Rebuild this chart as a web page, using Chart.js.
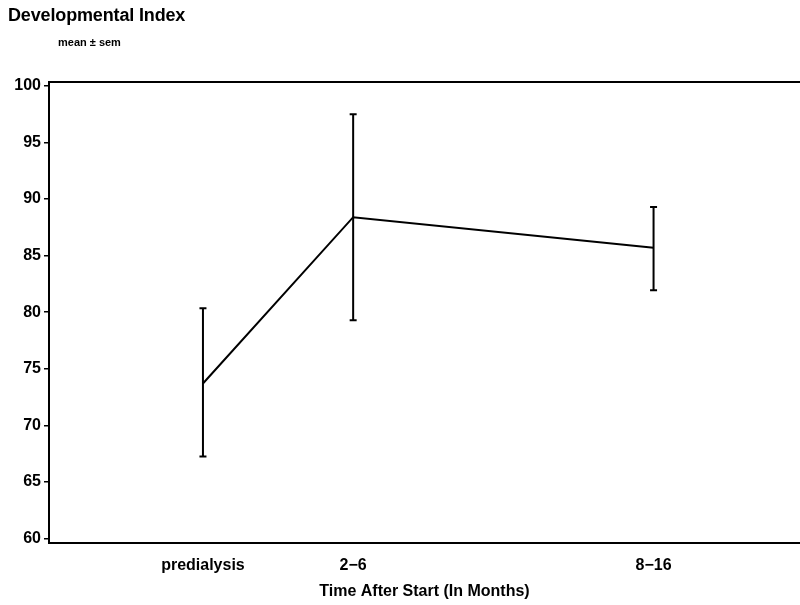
<!DOCTYPE html>
<html lang="en">
<head>
    <meta charset="UTF-8">
    <title>Developmental Index</title>
    <script src="https://cdn.jsdelivr.net/npm/chart.js"></script>
    <style>
        body {
            margin: 0;
            background: #fff;
            font-family: "Liberation Sans", Arial, sans-serif;
        }
        .wrap {
            position: relative;
            width: 800px;
            height: 605px;
        }
        .title {
            position: absolute;
            left: 8px;
            top: 5px;
            font-size: 18px;
            font-weight: bold;
            letter-spacing: -0.15px;
        }
        .subtitle {
            position: absolute;
            left: 58px;
            top: 36px;
            font-size: 11px;
            font-weight: bold;
        }
    </style>
</head>
<body>
<div class="wrap">
    <canvas id="devChart" width="800" height="605"></canvas>
    <div class="title">Developmental Index</div>
    <div class="subtitle">mean ± sem</div>
</div>

<script>
    // time groups, placed at the midpoint month of each range
    const groupLabels = ['predialysis', '2\u22126', '8\u221216'];
    const groupMonths = [0, 4, 12];
    const meanValues = [73.7, 88.4, 85.7];
    const semUpper = [80.35, 97.5, 89.3];
    const semLower = [67.25, 79.3, 81.95];
    const yTicks = [60, 65, 70, 75, 80, 85, 90, 95, 100];

    const tickFont = { family: 'Liberation Sans', size: 16, weight: 'bold' };

    // whiskers for mean +/- sem
    const errorBars = {
        id: 'errorBars',
        afterDatasetsDraw(chart) {
            const ctx = chart.ctx;
            const xs = chart.scales.x, ys = chart.scales.y;
            ctx.save();
            ctx.strokeStyle = '#000';
            ctx.lineWidth = 2;
            groupMonths.forEach((m, i) => {
                const x = xs.getPixelForValue(m);
                const top = ys.getPixelForValue(semUpper[i]);
                const bot = ys.getPixelForValue(semLower[i]);
                ctx.beginPath();
                ctx.moveTo(x, top); ctx.lineTo(x, bot);
                ctx.moveTo(x - 3.5, top); ctx.lineTo(x + 3.5, top);
                ctx.moveTo(x - 3.5, bot); ctx.lineTo(x + 3.5, bot);
                ctx.stroke();
            });
            ctx.restore();
        }
    };

    // frame around the plot area
    const frame = {
        id: 'frame',
        afterDraw(chart) {
            const a = chart.chartArea;
            const ctx = chart.ctx;
            ctx.save();
            ctx.strokeStyle = '#000';
            ctx.lineWidth = 2;
            ctx.strokeRect(a.left, a.top, a.right - a.left + 5, a.bottom - a.top);
            ctx.restore();
        }
    };

    new Chart(document.getElementById('devChart'), {
        type: 'line',
        data: {
            datasets: [{
                data: groupMonths.map((m, i) => ({ x: m, y: meanValues[i] })),
                borderColor: '#000',
                borderWidth: 2,
                pointRadius: 0,
                tension: 0
            }]
        },
        options: {
            responsive: false,
            animation: false,
            layout: { padding: { top: 82, left: 0, right: 0, bottom: 0 } },
            plugins: {
                legend: { display: false },
                tooltip: { enabled: false }
            },
            scales: {
                x: {
                    type: 'linear',
                    min: -4.1,
                    max: 15.9,
                    afterBuildTicks(axis) {
                        axis.ticks = groupMonths.map(v => ({ value: v }));
                    },
                    afterFit(axis) { axis.height = 62; },
                    grid: { display: false },
                    border: { display: false },
                    ticks: {
                        color: '#000',
                        font: tickFont,
                        padding: 5,
                        autoSkip: false,
                        maxRotation: 0,
                        callback: (v) => groupLabels[groupMonths.indexOf(v)]
                    },
                    title: {
                        display: true,
                        text: 'Time After Start (In Months)',
                        color: '#000',
                        font: tickFont,
                        padding: { top: 4, bottom: 4 }
                    }
                },
                y: {
                    min: 59.6,
                    max: 100.35,
                    afterBuildTicks(axis) {
                        axis.ticks = yTicks.map(v => ({ value: v }));
                    },
                    afterFit(axis) { axis.width = 49; },
                    grid: {
                        drawOnChartArea: false,
                        color: '#000',
                        lineWidth: 1.5,
                        tickLength: 5
                    },
                    border: { display: false },
                    ticks: {
                        color: '#000',
                        font: tickFont,
                        padding: 3
                    }
                }
            }
        },
        plugins: [errorBars, frame]
    });
</script>
</body>
</html>
